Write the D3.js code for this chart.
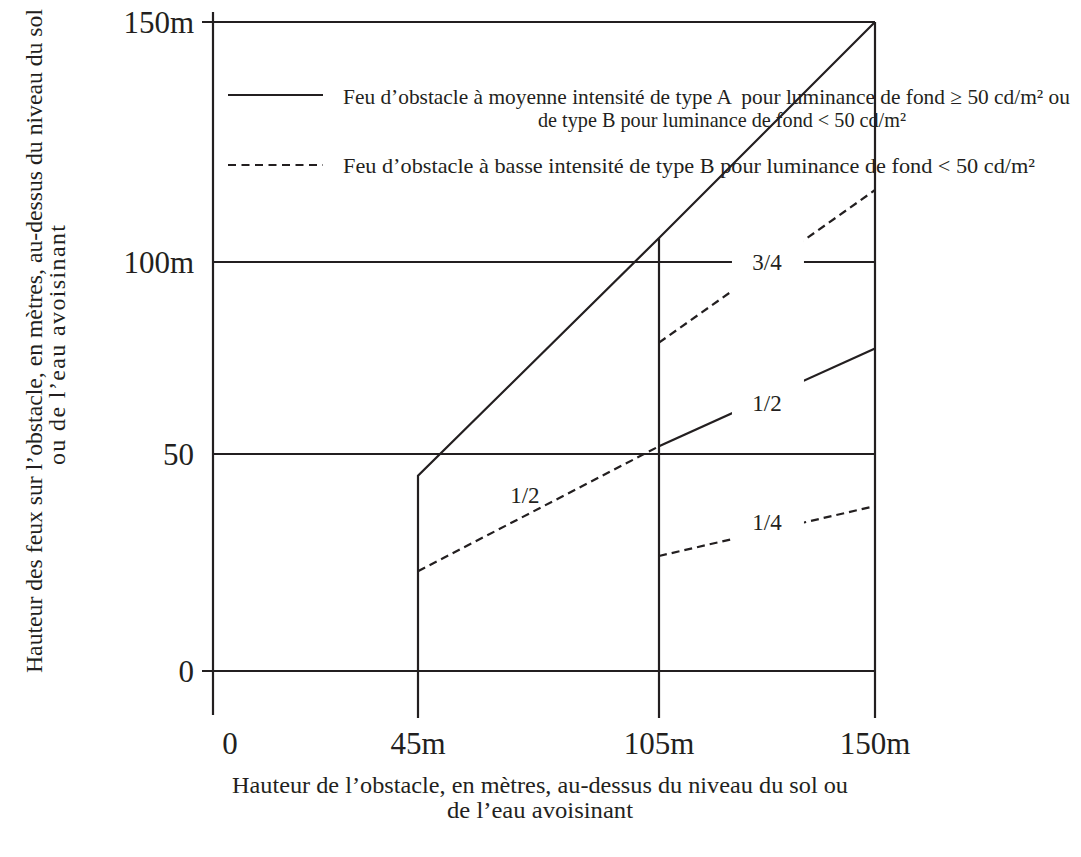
<!DOCTYPE html>
<html><head><meta charset="utf-8">
<script src="https://cdn.jsdelivr.net/npm/d3@7"></script>
<style>
body{margin:0;background:#fff}
svg text{font-family:"Liberation Serif","Times New Roman",serif;fill:#231f20;white-space:pre}
</style>
</head><body><svg id="c" width="1081" height="857"></svg>
<script>
// ---- data ----
const xTickValues = [0, 45, 105, 150];
const xTickLabels = ["0", "45m", "105m", "150m"];
const yTickValues = [0, 50, 100, 150];
const yTickLabels = ["0", "50", "100m", "150m"];
// medium intensity envelope (solid)
const envelope = [[45, 0], [45, 45], [105, 105], [150, 150]];
const post105 = [[105, 0], [105, 105]];
const post150 = [[150, 0], [150, 150]];
// low intensity fractions
const halfLow = [[45, 23], [105, 52]];        // dashed
const halfHigh = [[105, 52], [150, 77.5]];    // solid
const quarter = [[105, 26.5], [150, 38]];     // dashed
const threeQuarter = [[105, 79], [150, 115]]; // dashed
const fractionLabels = [
  {t: "1/2", x: 71.6, y: 40.5},
  {t: "3/4", x: 127.5, y: 100},
  {t: "1/2", x: 127.5, y: 63.3},
  {t: "1/4", x: 127.5, y: 34.3}
];
const labelGap = [120.2, 135.2];
const legendLabels = [
  "Feu d\u2019obstacle \u00e0 moyenne intensit\u00e9 de type A  pour luminance de fond \u2265 50 cd/m\u00b2 ou",
  "de type B pour luminance de fond < 50 cd/m\u00b2",
  "Feu d\u2019obstacle \u00e0 basse intensit\u00e9 de type B pour luminance de fond < 50 cd/m\u00b2"
];
const xTitle = ["Hauteur de l\u2019obstacle, en m\u00e8tres, au-dessus du niveau du sol ou", "de l\u2019eau avoisinant"];
const yTitle = ["Hauteur des feux sur l\u2019obstacle, en m\u00e8tres, au-dessus du niveau du sol", "ou de l\u2019eau avoisinant"];

// ---- scales (schematic, piecewise) ----
const x = d3.scaleLinear().domain([0, 45, 105, 150]).range([213, 418, 659, 875]);
const y = d3.scaleLinear().domain([0, 50, 100, 150]).range([671, 454, 262, 22]);

const svg = d3.select("#c");
const ink = "#231f20";
const line = d3.line().x(d => x(d[0])).y(d => y(d[1]));

// mask for label gaps
const defs = svg.append("defs");
const mask = defs.append("mask").attr("id", "gap").attr("maskUnits", "userSpaceOnUse")
  .attr("x", 0).attr("y", 0).attr("width", 1081).attr("height", 857);
mask.append("rect").attr("width", 1081).attr("height", 857).attr("fill", "#fff");
mask.append("rect").attr("x", x(labelGap[0])).attr("width", x(labelGap[1]) - x(labelGap[0]))
  .attr("y", 0).attr("height", 857).attr("fill", "#000");

// y axis
svg.append("line").attr("x1", x(0)).attr("x2", x(0)).attr("y1", y(150) - 10).attr("y2", y(0) + 44)
  .attr("stroke", ink).attr("stroke-width", 2.2);

// horizontal grid lines
svg.selectAll("line.h").data(yTickValues).join("line").attr("class", "h")
  .attr("x1", d => (d === 0 || d === 150) ? x(0) - 11 : x(0))
  .attr("x2", x(150))
  .attr("y1", d => y(d)).attr("y2", d => y(d))
  .attr("stroke", ink).attr("stroke-width", 2)
  .attr("mask", d => d === 100 ? "url(#gap)" : null);

// vertical posts with ticks below
svg.selectAll("line.v").data([45, 105, 150]).join("line").attr("class", "v")
  .attr("x1", d => x(d)).attr("x2", d => x(d))
  .attr("y1", y(0)).attr("y2", y(0) + 47)
  .attr("stroke", ink).attr("stroke-width", 2.2);

// envelope and posts
[envelope, post105, post150].forEach(p => {
  svg.append("path").attr("d", line(p)).attr("fill", "none")
    .attr("stroke", ink).attr("stroke-width", 2.2).attr("stroke-linejoin", "miter");
});

// fractions
const fg = svg.append("g").attr("mask", "url(#gap)");
fg.append("path").attr("d", line(halfLow)).attr("fill", "none").attr("stroke", ink)
  .attr("stroke-width", 2.2).attr("stroke-dasharray", "8,5");
fg.append("path").attr("d", line(halfHigh)).attr("fill", "none").attr("stroke", ink)
  .attr("stroke-width", 2.2);
fg.append("path").attr("d", line(quarter)).attr("fill", "none").attr("stroke", ink)
  .attr("stroke-width", 2.2).attr("stroke-dasharray", "8,5");
fg.append("path").attr("d", line(threeQuarter)).attr("fill", "none").attr("stroke", ink)
  .attr("stroke-width", 2.2).attr("stroke-dasharray", "8,5");

svg.selectAll("text.fr").data(fractionLabels).join("text").attr("class", "fr")
  .attr("x", d => x(d.x)).attr("y", d => y(d.y)).attr("dy", "0.35em")
  .attr("text-anchor", "middle").attr("font-size", 23).text(d => d.t);

// tick labels
svg.selectAll("text.xt").data(xTickValues).join("text").attr("class", "xt")
  .attr("x", d => x(d) + (d === 0 ? 17 : 0)).attr("y", y(0) + 83)
  .attr("text-anchor", "middle").attr("font-size", 31).text((d, i) => xTickLabels[i]);
svg.selectAll("text.yt").data(yTickValues).join("text").attr("class", "yt")
  .attr("x", x(0) - 19).attr("y", d => y(d)).attr("dy", "0.35em")
  .attr("text-anchor", "end").attr("font-size", 31).text((d, i) => yTickLabels[i]);

// legend
svg.append("line").attr("x1", 228).attr("x2", 323).attr("y1", 95).attr("y2", 95)
  .attr("stroke", ink).attr("stroke-width", 2.2);
svg.append("line").attr("x1", 228).attr("x2", 323).attr("y1", 165).attr("y2", 165)
  .attr("stroke", ink).attr("stroke-width", 2).attr("stroke-dasharray", "8,5.5");
const legPos = [[343, 104, 727], [538, 127, 368], [343, 173, 692]];
svg.selectAll("text.lg").data(legendLabels).join("text").attr("class", "lg")
  .attr("x", (d, i) => legPos[i][0]).attr("y", (d, i) => legPos[i][1])
  .attr("textLength", (d, i) => legPos[i][2]).attr("lengthAdjust", "spacingAndGlyphs")
  .attr("font-size", 21).text(d => d);

// axis titles
const xTitleLen = [616, 186];
svg.selectAll("text.xti").data(xTitle).join("text").attr("class", "xti")
  .attr("x", 540).attr("y", (d, i) => 793 + i * 25)
  .attr("text-anchor", "middle").attr("font-size", 23)
  .attr("textLength", (d, i) => xTitleLen[i])
  .attr("lengthAdjust", "spacingAndGlyphs")
  .text(d => d);
const yTitleLen = [664, 240];
svg.selectAll("text.yti").data(yTitle).join("text").attr("class", "yti")
  .attr("transform", (d, i) => `translate(${42 + i * 23},${341 + i * 4}) rotate(-90)`)
  .attr("text-anchor", "middle").attr("font-size", (d, i) => i === 0 ? 23 : 24)
  .attr("textLength", (d, i) => yTitleLen[i])
  .attr("lengthAdjust", (d, i) => i === 0 ? "spacingAndGlyphs" : "spacing")
  .text(d => d);
</script>
</body></html>
